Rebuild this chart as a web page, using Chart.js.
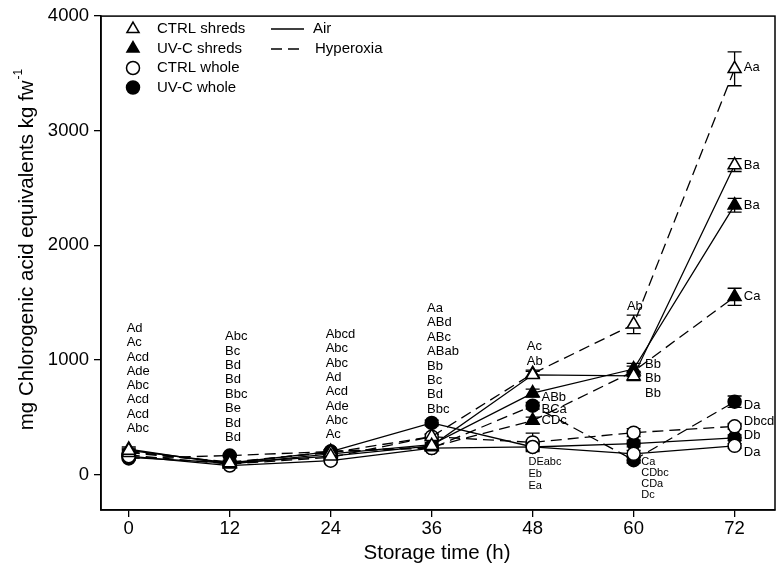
<!DOCTYPE html>
<html>
<head>
<meta charset="utf-8">
<script src="https://cdn.jsdelivr.net/npm/chart.js@4"></script>
<style>
html, body { margin: 0; padding: 0; background: #fff; }
</style>
</head>
<body>
<canvas id="myChart" width="784" height="574"></canvas>
<script>
// storage time (h) and axis ticks
var hours = [0, 12, 24, 36, 48, 60, 72]
var xTicks = [0, 12, 24, 36, 48, 60, 72]
var yTicks = [0, 1000, 2000, 3000, 4000]

// mg chlorogenic acid equivalents kg fw-1
var ctrlShredsAir = [210, 100, 160, 250, 870, 860, 2700]
var ctrlShredsHyp = [190, 110, 190, 330, 880, 1310, 3540]
var uvcShredsAir = [220, 90, 180, 260, 710, 920, 2350]
var uvcShredsHyp = [200, 100, 200, 240, 470, 900, 1550]
var ctrlWholeAir = [160, 78, 120, 230, 240, 180, 250]
var ctrlWholeHyp = [170, 90, 150, 330, 280, 365, 420]
var uvcWholeAir = [150, 100, 200, 450, 240, 270, 320]
var uvcWholeHyp = [140, 165, 200, 230, 600, 125, 635]

// standard errors
var ctrlShredsAirErr = [20, 15, 15, 20, 30, 40, 56]
var ctrlShredsHypErr = [20, 15, 15, 25, 30, 80, 148]
var uvcShredsAirErr = [20, 15, 15, 20, 35, 50, 60]
var uvcShredsHypErr = [20, 15, 15, 20, 30, 45, 75]
var ctrlWholeAirErr = [15, 10, 15, 20, 30, 30, 20]
var ctrlWholeHypErr = [15, 10, 15, 20, 80, 35, 25]
var uvcWholeAirErr = [15, 10, 15, 25, 25, 30, 25]
var uvcWholeHypErr = [15, 10, 15, 20, 30, 25, 50]

// significance letters
var letters0 = ['Ad', 'Ac', 'Acd', 'Ade', 'Abc', 'Acd', 'Acd', 'Abc']
var letters12 = ['Abc', 'Bc', 'Bd', 'Bd', 'Bbc', 'Be', 'Bd', 'Bd']
var letters24 = ['Abcd', 'Abc', 'Abc', 'Ad', 'Acd', 'Ade', 'Abc', 'Ac']
var letters36 = ['Aa', 'ABd', 'ABc', 'ABab', 'Bb', 'Bc', 'Bd', 'Bbc']
var letters48top = ['Ac', 'Ab']
var letters48mid = ['ABb', 'BCa', 'CDc']
var letters48low = ['DEabc', 'Eb', 'Ea']
var letters60top = ['Ab']
var letters60mid = ['Bb', 'Bb', 'Bb']
var letters60low = ['Ca', 'CDbc', 'CDa', 'Dc']
var letters72 = ['Aa', 'Ba', 'Ba', 'Ca', 'Da', 'Dbcd', 'Db', 'Da']
var letters72values = [3550, 2693, 2346, 1558, 606, 461, 338, 193]

// where each column of letters starts (hour, value) and line step in px
var letterPlaces = [
    {labels: letters0, hour: -0.25, value: 1275, step: 14.3, size: 13},
    {labels: letters12, hour: 11.45, value: 1203, step: 14.4, size: 13},
    {labels: letters24, hour: 23.4, value: 1221, step: 14.3, size: 13},
    {labels: letters36, hour: 35.45, value: 1449, step: 14.4, size: 13},
    {labels: letters48top, hour: 47.3, value: 1117, step: 15, size: 13},
    {labels: letters48mid, hour: 49.05, value: 669, step: 11.2, size: 13},
    {labels: letters48low, hour: 47.5, value: 106, step: 12, size: 11},
    {labels: letters60top, hour: 59.2, value: 1463, step: 14, size: 13},
    {labels: letters60mid, hour: 61.35, value: 961, step: 14.5, size: 13},
    {labels: letters60low, hour: 60.9, value: 113, step: 11, size: 11}
]

var fontFamily = '"Liberation Sans", Arial, sans-serif'

function pts(values) {
    return hours.map(function (h, i) { return {x: h, y: values[i]} })
}

function series(label, values, errs, shape, filled, dashed) {
    return {
        label: label,
        data: pts(values),
        errs: errs,
        borderColor: '#000',
        backgroundColor: filled ? '#000' : '#fff',
        pointBackgroundColor: filled ? '#000' : '#fff',
        pointBorderColor: '#000',
        pointBorderWidth: 1.5,
        pointStyle: shape,
        pointRadius: shape == 'triangle' ? 7.5 : 6.5,
        borderWidth: 1.3,
        borderDash: dashed ? [11, 6] : [],
        tension: 0,
        fill: false
    }
}

// error bars under the markers
let errorBars = {
    id: 'errorBars',
    beforeDatasetsDraw: function (chart) {
        let ctx = chart.ctx
        let ys = chart.scales.y
        ctx.save()
        ctx.strokeStyle = '#000'
        ctx.lineWidth = 1.3
        chart.data.datasets.forEach(function (ds, di) {
            let meta = chart.getDatasetMeta(di)
            meta.data.forEach(function (p, i) {
                let v = ds.data[i].y, e = ds.errs[i]
                let top = ys.getPixelForValue(v + e), bot = ys.getPixelForValue(v - e)
                ctx.beginPath()
                ctx.moveTo(p.x, top); ctx.lineTo(p.x, bot)
                ctx.moveTo(p.x - 7, top); ctx.lineTo(p.x + 7, top)
                ctx.moveTo(p.x - 7, bot); ctx.lineTo(p.x + 7, bot)
                ctx.stroke()
            })
        })
        ctx.restore()
    }
}

// frame, letters, legend and titles
let decorations = {
    id: 'decorations',
    afterDraw: function (chart) {
        let ctx = chart.ctx
        let a = chart.chartArea
        let xs = chart.scales.x, ys = chart.scales.y
        ctx.save()
        ctx.strokeStyle = '#000'
        ctx.lineWidth = 1.5
        ctx.strokeRect(a.left, a.top, a.right - a.left, a.bottom - a.top)

        ctx.fillStyle = '#000'
        ctx.textBaseline = 'middle'
        ctx.textAlign = 'left'
        letterPlaces.forEach(function (g) {
            ctx.font = g.size + 'px ' + fontFamily
            let x = xs.getPixelForValue(g.hour)
            let y = ys.getPixelForValue(g.value)
            g.labels.forEach(function (t, i) { ctx.fillText(t, x, y + i * g.step) })
        })
        ctx.font = '13px ' + fontFamily
        letters72.forEach(function (t, i) {
            ctx.fillText(t, xs.getPixelForValue(73.1), ys.getPixelForValue(letters72values[i]))
        })

        // legend
        let rows = [
            ['CTRL shreds', 'triangle', false],
            ['UV-C shreds', 'triangle', true],
            ['CTRL whole', 'circle', false],
            ['UV-C whole', 'circle', true]
        ]
        ctx.font = '15px ' + fontFamily
        rows.forEach(function (r, i) {
            let y = 29 + i * 19.5
            ctx.fillStyle = r[2] ? '#000' : '#fff'
            ctx.strokeStyle = '#000'
            ctx.lineWidth = 1.5
            Chart.helpers.drawPoint(ctx, {pointStyle: r[1], radius: r[1] == 'triangle' ? 7 : 6.5, rotation: 0, borderWidth: 1.5}, 133, y)
            ctx.fillStyle = '#000'
            ctx.fillText(r[0], 157, y)
        })
        ctx.lineWidth = 1.3
        ctx.beginPath(); ctx.moveTo(271, 29); ctx.lineTo(304, 29); ctx.stroke()
        ctx.setLineDash([11, 6])
        ctx.beginPath(); ctx.moveTo(271, 49); ctx.lineTo(304, 49); ctx.stroke()
        ctx.setLineDash([])
        ctx.fillText('Air', 313, 29)
        ctx.fillText('Hyperoxia', 315, 49)

        // axis titles
        ctx.font = '20.5px ' + fontFamily
        ctx.textAlign = 'center'
        ctx.fillText('Storage time (h)', 437, 553)
        ctx.translate(27, 250)
        ctx.rotate(-Math.PI / 2)
        let main = 'mg Chlorogenic acid equivalents kg fw'
        let w = ctx.measureText(main).width
        ctx.font = '12px ' + fontFamily
        let ws = ctx.measureText('-1').width
        ctx.textAlign = 'left'
        ctx.fillText('-1', -(w + ws) / 2 + w + 1, -8)
        ctx.font = '20.5px ' + fontFamily
        ctx.fillText(main, -(w + ws) / 2, 0)
        ctx.restore()
    }
}

let ctx = document.getElementById('myChart').getContext('2d')
let myChart = new Chart(ctx, {
    type: 'line',
    data: {
        datasets: [
            series('CTRL shreds Air', ctrlShredsAir, ctrlShredsAirErr, 'triangle', false, false),
            series('CTRL shreds Hyperoxia', ctrlShredsHyp, ctrlShredsHypErr, 'triangle', false, true),
            series('UV-C shreds Air', uvcShredsAir, uvcShredsAirErr, 'triangle', true, false),
            series('UV-C shreds Hyperoxia', uvcShredsHyp, uvcShredsHypErr, 'triangle', true, true),
            series('CTRL whole Air', ctrlWholeAir, ctrlWholeAirErr, 'circle', false, false),
            series('CTRL whole Hyperoxia', ctrlWholeHyp, ctrlWholeHypErr, 'circle', false, true),
            series('UV-C whole Air', uvcWholeAir, uvcWholeAirErr, 'circle', true, false),
            series('UV-C whole Hyperoxia', uvcWholeHyp, uvcWholeHypErr, 'circle', true, true)
        ]
    },
    options: {
        responsive: false,
        animation: false,
        layout: {padding: {top: 12, right: 7, left: 0, bottom: 0}},
        plugins: {legend: {display: false}, tooltip: {enabled: false}},
        scales: {
            x: {
                type: 'linear',
                min: -3.3,
                max: 76.8,
                afterFit: function (s) { s.height = 64 },
                afterBuildTicks: function (s) { s.ticks = xTicks.map(function (v) { return {value: v} }) },
                grid: {display: true, drawOnChartArea: false, drawTicks: true, tickLength: 7, color: '#000', lineWidth: 1.3},
                border: {display: true, color: '#000', width: 1.5},
                ticks: {color: '#000', padding: 1, font: {size: 18.5, family: fontFamily}, maxRotation: 0}
            },
            y: {
                min: -310,
                max: 4000,
                afterFit: function (s) { s.width = 101 },
                afterBuildTicks: function (s) { s.ticks = yTicks.map(function (v) { return {value: v} }) },
                grid: {display: true, drawOnChartArea: false, drawTicks: true, tickLength: 7, color: '#000', lineWidth: 1.3},
                border: {display: true, color: '#000', width: 1.5},
                ticks: {color: '#000', padding: 5, font: {size: 18.5, family: fontFamily},
                    callback: function (v) { return String(v) }}
            }
        }
    },
    plugins: [errorBars, decorations]
})
</script>
</body>
</html>
